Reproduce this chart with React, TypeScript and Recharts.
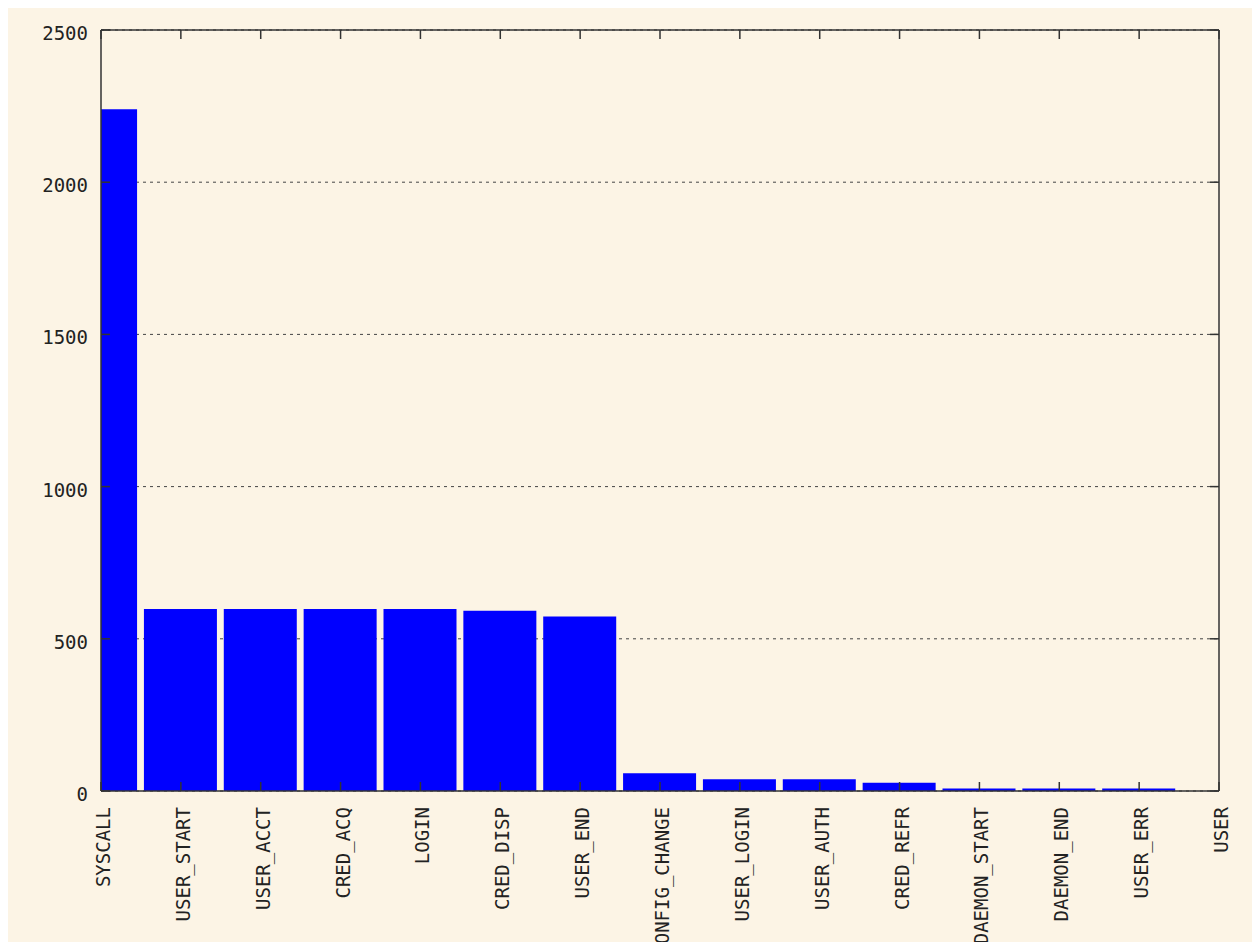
import { Bar, BarChart, CartesianGrid, XAxis, YAxis } from 'recharts'

const categories = [
  'SYSCALL', 'USER_START', 'USER_ACCT', 'CRED_ACQ', 'LOGIN', 'CRED_DISP', 'USER_END',
  'CONFIG_CHANGE', 'USER_LOGIN', 'USER_AUTH', 'CRED_REFR', 'DAEMON_START', 'DAEMON_END',
  'USER_ERR', 'USER',
]
const counts = [2240, 598, 598, 598, 598, 592, 573, 58, 39, 39, 27, 8, 8, 8, 0]
const yTicks = [0, 500, 1000, 1500, 2000, 2500]
const xTicks = categories.map((_, i) => i)

const data = categories.map((name, i) => ({ idx: i, name, count: counts[i] }))

const font = '"DejaVu Sans Mono", monospace'
const ink = '#222'
const frame = '#333'

function XTick({ x, y, payload }: any) {
  const bx = x + 9
  return (
    <text x={bx} y={y} transform={`rotate(-90 ${bx} ${y})`} textAnchor="end" fontFamily={font} fontSize={19} fill={ink}>
      {categories[payload.value]}
    </text>
  )
}

function YTick({ x, y, payload }: any) {
  return (
    <text x={x} y={y + 10} textAnchor="end" fontFamily={font} fontSize={19} fill={ink}>
      {payload.value}
    </text>
  )
}

const Empty = () => <g />

export default function App() {
  return (
    <div style={{ position: 'fixed', top: 8, left: 8, width: 1244, height: 934, background: '#fcf4e5' }}>
      <BarChart width={1244} height={934} data={data} margin={{ top: 12, right: 23, bottom: 21, left: 13 }}>
        <CartesianGrid xAxisId="bottom" yAxisId="left" vertical={false} stroke="#444" strokeDasharray="3 4" />
        <XAxis
          xAxisId="bottom"
          dataKey="idx"
          type="number"
          domain={[0, 14]}
          ticks={xTicks}
          allowDataOverflow
          interval={0}
          height={130}
          tickSize={-9}
          tickMargin={25}
          tick={<XTick />}
          stroke={frame}
          strokeWidth={1.5}
        />
        <XAxis
          xAxisId="top"
          orientation="top"
          dataKey="idx"
          type="number"
          domain={[0, 14]}
          ticks={xTicks}
          allowDataOverflow
          interval={0}
          height={10}
          tickSize={-9}
          tick={<Empty />}
          stroke={frame}
          strokeWidth={1.5}
        />
        <YAxis
          yAxisId="left"
          domain={[0, 2500]}
          ticks={yTicks}
          allowDataOverflow
          width={80}
          tickSize={-9}
          tickMargin={22}
          tick={<YTick />}
          stroke={frame}
          strokeWidth={1.5}
        />
        <YAxis
          yAxisId="right"
          orientation="right"
          domain={[0, 2500]}
          ticks={yTicks}
          allowDataOverflow
          width={10}
          tickSize={-9}
          tick={<Empty />}
          stroke={frame}
          strokeWidth={1.5}
        />
        <Bar xAxisId="bottom" yAxisId="left" dataKey="count" fill="#0000ff" barSize={73} isAnimationActive={false} />
      </BarChart>
    </div>
  )
}
